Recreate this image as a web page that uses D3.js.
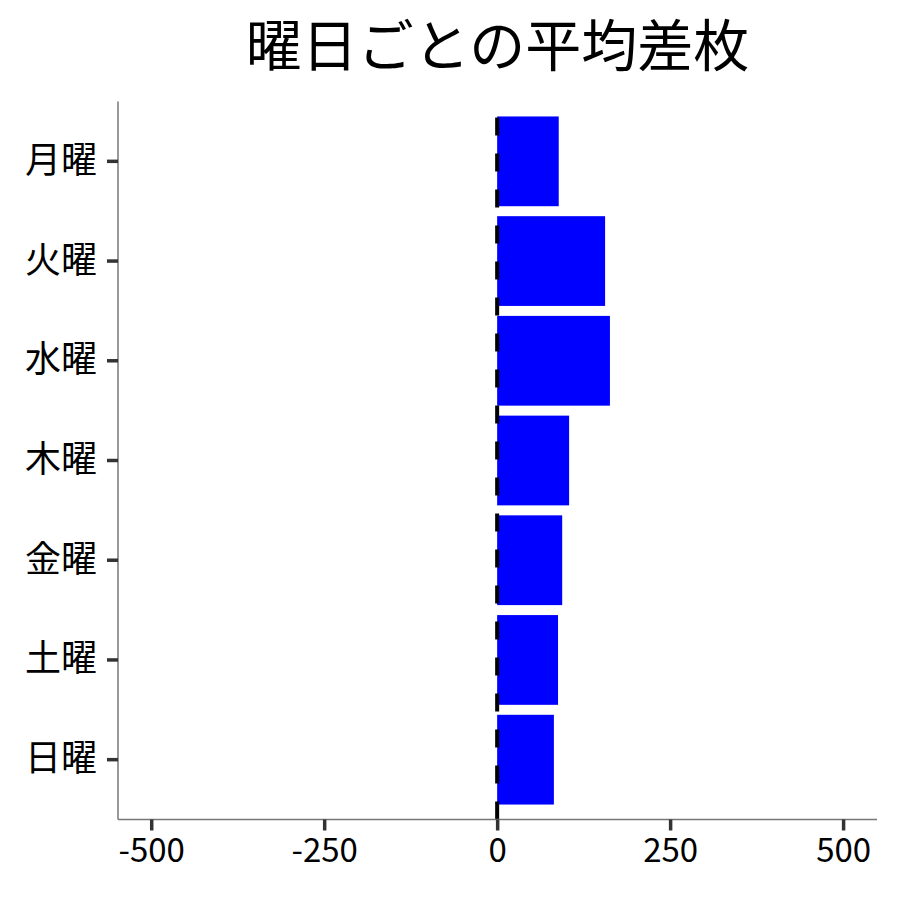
<!DOCTYPE html>
<html><head><meta charset="utf-8">
<script src="https://cdn.jsdelivr.net/npm/d3@7"></script>
<style>body{margin:0;background:#fff}</style>
</head><body>
<script>
const categories = ["月曜","火曜","水曜","木曜","金曜","土曜","日曜"];
const values = [89, 156, 163, 104, 94, 88, 82];
const xTicks = [-500, -250, 0, 250, 500];
const title = "曜日ごとの平均差枚";

const W = 900, H = 900;
const mLeft = 118, mRight = 877, mTop = 101.5, mBottom = 819.5;
const font = "'Noto Sans CJK JP', 'Noto Sans', sans-serif";

const svg = d3.select("body").append("svg").attr("width", W).attr("height", H);

const x = d3.scaleLinear().domain([-548, 549]).range([mLeft, mRight]);
const y = d3.scaleBand().domain(categories).range([mTop, mBottom]).paddingInner(0.1).paddingOuter(0.15);

// bars
svg.append("g").selectAll("rect").data(categories).join("rect")
  .attr("x", (d,i) => x(Math.min(0, values[i])))
  .attr("y", d => y(d))
  .attr("width", (d,i) => Math.abs(x(values[i]) - x(0)))
  .attr("height", y.bandwidth())
  .attr("fill", "#0000ff");

// dashed zero line (drawn from bottom to top)
svg.append("line")
  .attr("x1", x(0)).attr("x2", x(0))
  .attr("y1", mBottom).attr("y2", mTop)
  .attr("stroke", "#000").attr("stroke-width", 4)
  .attr("stroke-dasharray", "18,18");

// axes
const xAxis = svg.append("g").attr("transform", `translate(0,${mBottom})`)
  .call(d3.axisBottom(x).tickValues(xTicks).tickSize(11).tickPadding(8).tickFormat(d => String(d)));
const yAxis = svg.append("g").attr("transform", `translate(${mLeft},0)`)
  .call(d3.axisLeft(y).tickSize(11).tickPadding(10));

[xAxis, yAxis].forEach(g => {
  g.select(".domain").attr("stroke", "#777").attr("stroke-width", 1.5);
  g.selectAll(".tick line").attr("stroke", "#333").attr("stroke-width", 3.5);
  g.selectAll(".tick text").attr("fill", "#000").style("font-family", font).style("font-size", "33px");
});
yAxis.selectAll(".tick text").style("font-size", "36px");
xAxis.select(".domain").attr("d", `M${mLeft},0H${mRight}`);
yAxis.select(".domain").attr("d", `M0,${mTop}V${mBottom}`);

svg.append("text")
  .attr("x", (mLeft + mRight) / 2).attr("y", 66)
  .attr("text-anchor", "middle")
  .style("font-family", font).style("font-size", "56px")
  .attr("fill", "#000")
  .text(title);
</script>
</body></html>
